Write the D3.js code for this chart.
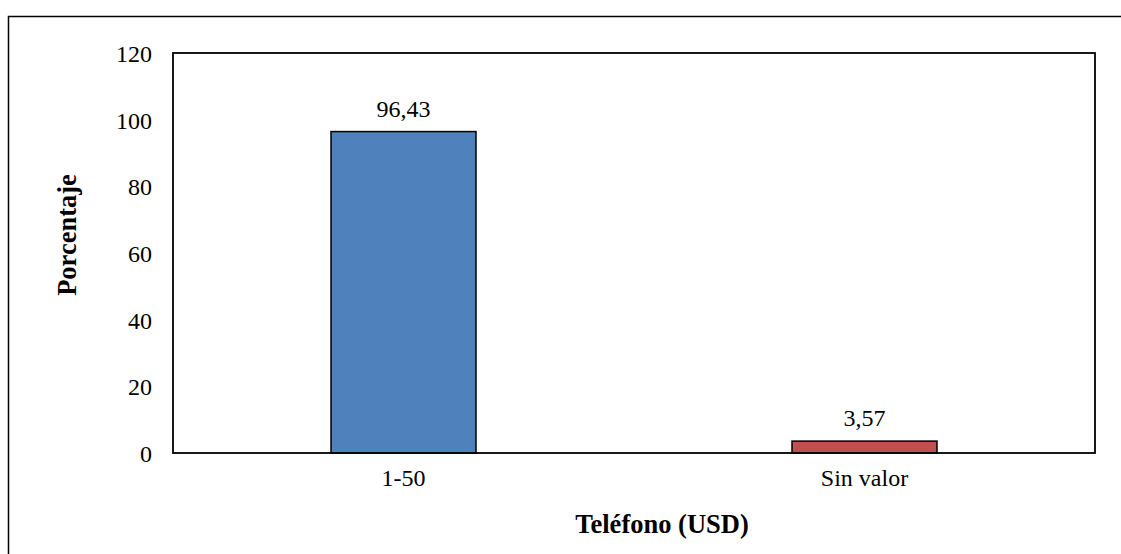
<!DOCTYPE html>
<html lang="es">
<head>
<meta charset="utf-8"/>
<style>
	body { margin: 0; background: #FFFFFF; }
	* { font-family: "Liberation Serif", "Times New Roman", serif; }
	.tick text { font-size: 24px; fill: #000; font-family: "Liberation Serif", serif; }
	.label { font-size: 24px; fill: #000; }
	.title { font-size: 26.5px; font-weight: bold; fill: #000; }
</style>
</head>
<body>
<svg id="container" width="1121" height="554"></svg>
<script src="https://d3js.org/d3.v7.min.js"></script>
<script>
	// data
	let categories = ["1-50", "Sin valor"]
	let values = [96.43, 3.57]
	let colors = ["#4F81BD", "#C0504D"]
	let yTicks = [0, 20, 40, 60, 80, 100, 120]

	let svg = d3.select("svg")
	let plotLeft = 173, plotRight = 1095, plotTop = 53, plotBottom = 453

	// outer frame (runs off the page on right and bottom)
	svg.append("rect")
		.attr("x", 8.5).attr("y", 16.5)
		.attr("width", 1130).attr("height", 560)
		.attr("fill", "none").attr("stroke", "#000").attr("stroke-width", 1.5)

	let xScale = d3.scaleBand()
		.domain(categories)
		.range([plotLeft, plotRight])
		.paddingInner(0.6855)
		.paddingOuter(0.6855 / 2)

	let yScale = d3.scaleLinear()
		.domain([0, 120])
		.range([plotBottom, plotTop])

	// y axis labels only, no tick marks
	let yAxis = svg.append("g")
		.attr("transform", "translate(" + plotLeft + ",0)")
		.call(d3.axisLeft(yScale).tickValues(yTicks).tickSize(0).tickPadding(21))
	yAxis.select(".domain").remove()
	yAxis.selectAll("text").attr("dy", "0.36em")

	let xAxis = svg.append("g")
		.attr("transform", "translate(0," + plotBottom + ")")
		.call(d3.axisBottom(xScale).tickSize(0).tickPadding(16))
	xAxis.select(".domain").remove()

	svg.selectAll(".bar")
		.data(values)
		.enter()
		.append("rect")
		.attr("class", "bar")
		.attr("x", (d, i) => xScale(categories[i]))
		.attr("y", d => yScale(d))
		.attr("width", xScale.bandwidth())
		.attr("height", d => yScale(0) - yScale(d))
		.attr("fill", (d, i) => colors[i])
		.attr("stroke", "#000")
		.attr("stroke-width", 1.5)

	svg.selectAll(".label")
		.data(values)
		.enter()
		.append("text")
		.attr("class", "label")
		.attr("text-anchor", "middle")
		.attr("x", (d, i) => xScale(categories[i]) + xScale.bandwidth() / 2)
		.attr("y", d => yScale(d) - 15)
		.text(d => d.toFixed(2).replace(".", ","))

	// plot area border
	svg.append("rect")
		.attr("x", plotLeft).attr("y", plotTop)
		.attr("width", plotRight - plotLeft).attr("height", plotBottom - plotTop)
		.attr("fill", "none").attr("stroke", "#000").attr("stroke-width", 1.8)

	svg.append("text")
		.attr("class", "title")
		.attr("text-anchor", "middle")
		.attr("x", 662)
		.attr("y", 533)
		.text("Teléfono (USD)")

	svg.append("text")
		.attr("class", "title")
		.attr("text-anchor", "middle")
		.attr("transform", "translate(76,235) rotate(-90)")
		.text("Porcentaje")
</script>
</body>
</html>
